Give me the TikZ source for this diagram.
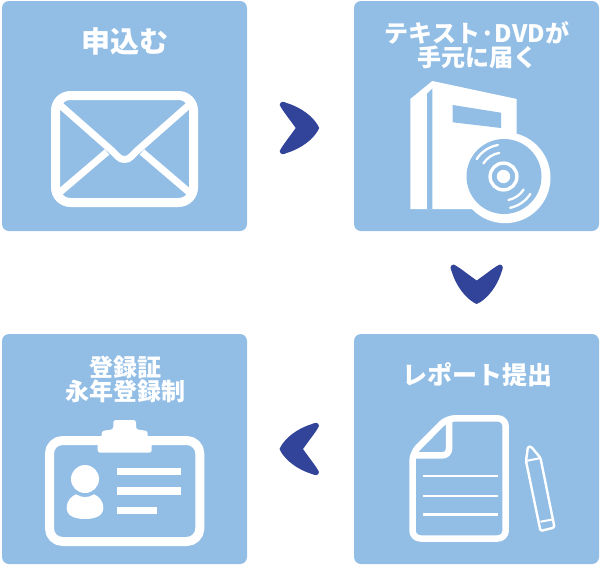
\documentclass[tikz,border=0pt]{standalone}
\usepackage{fontspec}
\setmainfont{Noto Sans CJK JP}[BoldFont = {Noto Sans CJK JP Black}]
\definecolor{panelblue}{HTML}{92BEE6}
\definecolor{arrowblue}{HTML}{324499}
\tikzset{
    panel/.style = {fill = panelblue, rounded corners = 7pt, minimum width = 245pt,
        minimum height = 230pt, inner sep = 0pt},
    title/.style = {white, align = center, font = \bfseries\fontsize{24}{25}\selectfont,
        inner sep = 0pt},
    iconline/.style = {draw = white, line join = round},
    chevron/.pic = {
        \fill [arrowblue] (-16,-23) .. controls (-15.5,-27) and (-12,-26.5) .. (-9,-25)
            .. controls (7,-20) and (17,-11) .. (22,-3)
            .. controls (24,-1) and (24,1) .. (22,3)
            .. controls (17,11) and (7,20) .. (-9,25)
            .. controls (-12,26.5) and (-15.5,27) .. (-16,23)
            .. controls (-13,17) and (-7,10) .. (0,0)
            .. controls (-7,-10) and (-13,-17) .. (-16,-23) -- cycle;
    }
}
\begin{document}
\begin{tikzpicture}[x = 1pt, y = -1pt]
    \useasboundingbox (0,0) rectangle (600,565);
    \node [panel] (mail) at (124.5,116) {};
    \node [panel] (book) at (476.5,116) {};
    \node [panel] (card) at (124.5,449) {};
    \node [panel] (report) at (476.5,449) {};
    \node [title, font = \bfseries\fontsize{29}{30}\selectfont] (mailtitle) at (125,41) {申込む};
    \node [title] (booktitle) at (477,45.5) {テキスト·DVDが\\[-1pt]手元に届く};
    \node [title] (cardtitle) at (125,379.5) {登録証\\[-1pt]永年登録制};
    \node [title, font = \bfseries\fontsize{25}{26}\selectfont] (reporttitle) at (477,375) {レポート提出};
    % arrows between the panels
    \pic at (295.7,128) {chevron};
    \pic [rotate = -90] at (476.7,280.5) {chevron};
    \pic [rotate = 180] at (303,449) {chevron};
    % envelope
    \draw [iconline, line width = 9pt, rounded corners = 15pt] (55.5,95.5) rectangle (193.5,202.5);
    \draw [iconline, line width = 7pt] (60,105) -- (110,149) .. controls (118,156) and (119,159.5) .. (124.5,159.5)
        .. controls (130,159.5) and (131,156) .. (139,149) -- (189,105);
    \draw [iconline, line width = 7pt] (107,152) -- (59,193);
    \draw [iconline, line width = 7pt] (142,152) -- (190,193);
    % book and disc
    \fill [white] (410.3,99) -- (432.3,81) -- (516.7,99) -- (516.7,150) -- (480,209) -- (410.3,209) -- cycle;
    \fill [panelblue] (427,209) -- (427,94) -- (432.3,88.5) -- (432.3,209) -- cycle;
    \fill [panelblue] (452.7,105) -- (501,112.7) -- (501,128) -- (452.7,122.3) -- cycle;
    \fill [white] (505,177.7) circle [radius = 45.5];
    \fill [panelblue] (504,176.5) circle [radius = 37.5];
    \draw [white, line width = 3.4pt] (503.5,176.5) circle [radius = 13.4];
    \fill [white] (503.5,176.5) circle [radius = 6.7];
    \draw [white, line width = 2.3pt, line cap = round] (503.5,176.5) ++(-147:32) arc [start angle = -147, end angle = -100, radius = 32];
    \draw [white, line width = 2.3pt, line cap = round] (503.5,176.5) ++(-147:24) arc [start angle = -147, end angle = -100, radius = 24];
    \draw [white, line width = 2.3pt, line cap = round] (503.5,176.5) ++(33:32) arc [start angle = 33, end angle = 78, radius = 32];
    \draw [white, line width = 2.3pt, line cap = round] (503.5,176.5) ++(33:24) arc [start angle = 33, end angle = 78, radius = 24];
    % id card
    \draw [iconline, line width = 9pt, rounded corners = 13pt] (49.5,440.5) rectangle (199.8,541.5);
    \fill [white, rounded corners = 2.5pt] (97.7,452.7) -- (97.7,443) -- (101.7,440) -- (101.7,431) -- (113.3,429.3)
        -- (113.3,420) -- (136,420) -- (136,429.3) -- (147.7,431) -- (147.7,440) -- (151.7,443) -- (151.7,452.7) -- cycle;
    \fill [white] (85,479) circle [radius = 14];
    \fill [white] (66.7,508) .. controls (66.7,500) and (72,496) .. (76,494.3)
        .. controls (82,498) and (88,498) .. (94,494.3)
        .. controls (98,496) and (103.3,500) .. (103.3,508)
        .. controls (103.3,516) and (95,519) .. (85,519)
        .. controls (75,519) and (66.7,516) .. (66.7,508) -- cycle;
    \fill [white] (117,467.7) rectangle (181,475);
    \fill [white] (117,487.3) rectangle (181,494.7);
    \fill [white] (117,507) rectangle (157.3,514.3);
    % report sheet
    \draw [iconline, line width = 6.5pt, rounded corners = 8pt] (447,418.3) -- (505.7,418.3) -- (505.7,538.5) -- (412.5,538.5) -- (412.5,453) -- cycle;
    \draw [iconline, line width = 6.5pt] (449,418.3) -- (449,449) arc [start angle = 0, end angle = 90, radius = 6.3] -- (412.5,455.3);
    \draw [white, line width = 2.5pt] (422.7,476) -- (497.7,476);
    \draw [white, line width = 2.5pt] (422.7,496) -- (497.7,496);
    \draw [white, line width = 2.5pt] (422.7,514.3) -- (497.7,514.3);
    % pencil
    \draw [iconline, line width = 2.4pt, rounded corners = 1.5pt] (531,446.5) -- (540.5,458) -- (554.5,527.5) -- (540.5,531) -- (526,461) -- (528,446.5) -- cycle;
    \draw [white, line width = 2pt] (526,461) -- (540.5,458);
    \draw [white, line width = 2pt] (540.5,521.7) -- (553.5,519.3);
\end{tikzpicture}
\end{document}
